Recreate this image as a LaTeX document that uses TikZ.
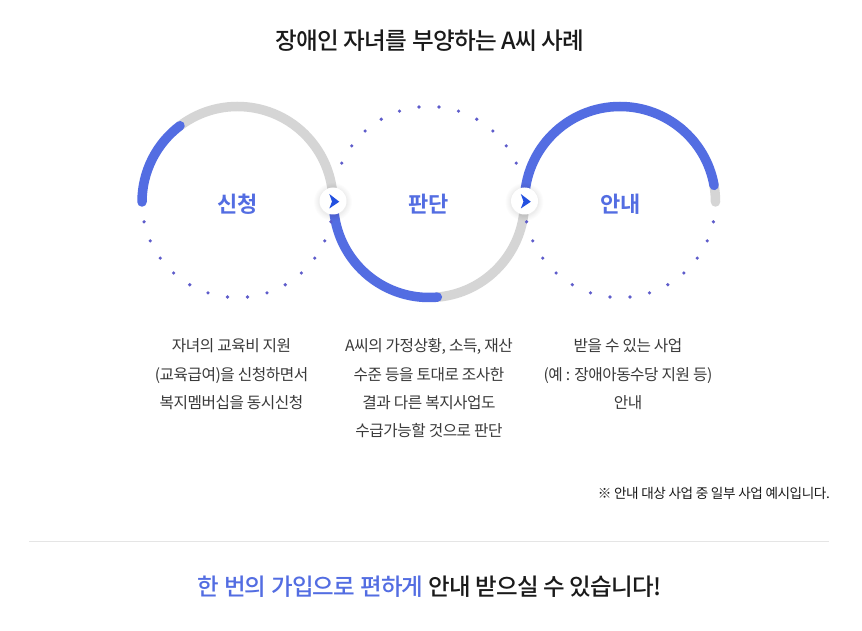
\documentclass[tikz,border=0pt]{standalone}
\usepackage{fontspec}
\setmainfont{Noto Sans CJK KR}[BoldFont={Noto Sans CJK KR Bold}]
\newfontfamily\krbody{Noto Sans CJK KR}[LetterSpace=-3]
\newfontfamily\krhead{Noto Sans CJK KR Medium}[LetterSpace=-3]
\newfontfamily\krbold{Noto Sans CJK KR Bold}[LetterSpace=-3]
\definecolor{bluearc}{HTML}{536DE2}
\definecolor{grayarc}{HTML}{D5D5D5}
\definecolor{dotc}{HTML}{5E5CCB}
\definecolor{arrowc}{HTML}{2350E0}
\definecolor{inkc}{HTML}{1A1A1A}
\definecolor{bodyc}{HTML}{3A3A3A}
\tikzset{
  x=1pt,y=-1pt,
  arcb/.style={draw=bluearc,line width=9.5pt,line cap=round},
  arcg/.style={draw=grayarc,line width=9.5pt,line cap=round},
  dotm/.style={fill=dotc,draw=none},
  bodytxt/.style={font=\krbody\fontsize{15.7}{28.2}\selectfont,text=bodyc,align=center,anchor=north},
  steptxt/.style={font=\krbold\fontsize{22}{26}\selectfont,text=bluearc},
}
\begin{document}
\begin{tikzpicture}
\useasboundingbox[fill=white] (0,0) rectangle (862,631);
\def\R{95.5}
\def\Pt#1#2{({#1+\R*cos(#2)},{202-\R*sin(#2)})}
% gray tracks
\draw[arcg] \Pt{237.5}{127} arc[start angle=-127,end angle=0,radius=\R];
\draw[arcg] \Pt{429}{275} arc[start angle=-275,end angle=-360,radius=\R];
\draw[arcg] \Pt{620}{10} arc[start angle=-10,end angle=0,radius=\R];
% blue arcs
\draw[arcb] \Pt{237.5}{180} arc[start angle=-180,end angle=-127,radius=\R];
\draw[arcb] \Pt{429}{180} arc[start angle=180,end angle=85,radius=\R];
\draw[arcb] \Pt{620}{180} arc[start angle=-180,end angle=-10,radius=\R];
% dots
\foreach \a in {192,204,...,348}{
  \fill[dotm] \Pt{237.5}{\a} circle[radius=1.8];
  \fill[dotm] \Pt{620}{\a} circle[radius=1.8];
}
\foreach \a in {24,36,...,156}{
  \fill[dotm] \Pt{429}{\a} circle[radius=1.8];
}
% arrow buttons
\foreach \cx/\nm in {333/btnA,524.5/btnB}{
  \foreach \r in {19,18,17,16,15,14.5}{
    \fill[black,opacity=0.012] (\cx,202) circle[radius=\r];
  }
  \node[circle,fill=white,draw=none,minimum size=27pt,inner sep=0pt] (\nm) at (\cx,201) {};
  \fill[arrowc] (\cx-3.7,194) -- (\cx+6.3,201.7) -- (\cx-3.7,208.5) -- (\cx-1,201.5) -- cycle;
}
% texts
\node[font=\krhead\fontsize{23.6}{30}\selectfont,text=inkc] (title) at (430,40.5) {장애인 자녀를 부양하는 A씨 사례};
\node[steptxt] (s1) at (237.5,204) {신청};
\node[steptxt] (s2) at (428.5,204) {판단};
\node[steptxt] (s3) at (620.5,204) {안내};
\node[bodytxt] (b1) at (231.5,335.3) {자녀의 교육비 지원\\(교육급여)을 신청하면서\\복지멤버십을 동시신청};
\node[bodytxt] (b2) at (429,335.3) {A씨의 가정상황, 소득, 재산\\수준 등을 토대로 조사한\\결과 다른 복지사업도\\수급가능할 것으로 판단};
\node[bodytxt] (b3) at (628,335.3) {받을 수 있는 사업\\(예 : 장애아동수당 지원 등)\\안내};
\node[font=\krbody\fontsize{13.6}{16}\selectfont,text=inkc,anchor=east,inner sep=0pt] (note) at (830,493) {※ 안내 대상 사업 중 일부 사업 예시입니다.};
\draw[draw=black!10,line width=1pt] (29,541.5) -- (829,541.5);
\node[font=\krhead\fontsize{23.5}{30}\selectfont,inner sep=0pt] (foot) at (429.5,587) {\textcolor{bluearc}{한 번의 가입으로 편하게} \textcolor{inkc}{안내 받으실 수 있습니다!}};
\end{tikzpicture}
\end{document}
